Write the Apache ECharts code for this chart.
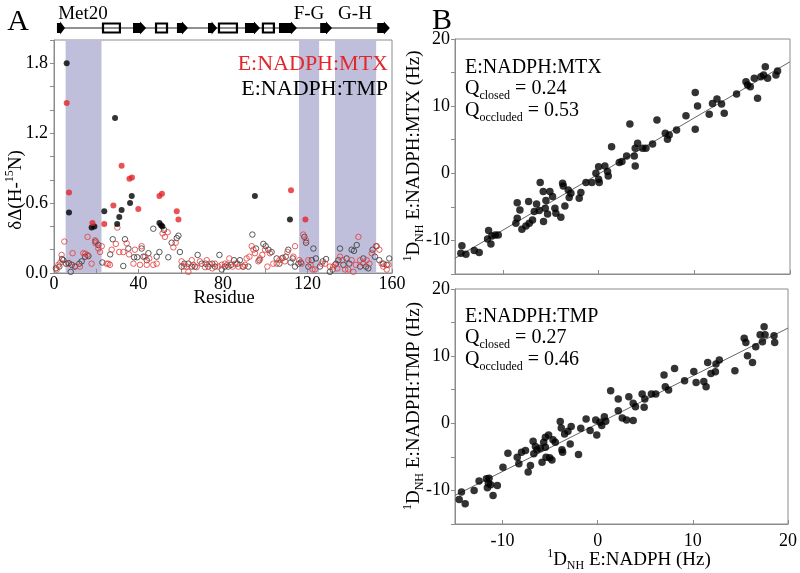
<!DOCTYPE html>
<html><head><meta charset="utf-8">
<script src="https://cdn.jsdelivr.net/npm/echarts@6/dist/echarts.min.js"></script>
<style>html,body{margin:0;padding:0;background:#fff}#c{width:800px;height:573px}</style>
</head><body><div id="c"></div>
<script>
// ---------- Panel A data (residue, δΔ) ----------
const mtxFilled = [[6,1.46],[7.1,0.69],[18.2,0.43],[23.8,0.42],[28.1,0.58],[32,0.92],[35.7,0.81],[36.9,0.82],[39.9,0.55],[49.9,0.66],[51.1,0.68],[58.1,0.53],[58.9,0.46],[112.2,0.71],[119,0.46]];
const tmpFilled = [[6,1.80],[7.1,0.52],[17.8,0.39],[19.1,0.40],[23.8,0.53],[28.9,1.33],[29.9,0.42],[30.9,0.48],[32,0.54],[36,0.60],[36.8,0.66],[49.9,0.43],[50.7,0.41],[51.3,0.40],[95.1,0.66],[111.7,0.46]];
const mtxOpen = [[1.3,0.03],[2.1,0.07],[3.0,0.09],[3.6,0.155],[4.9,0.27],[6.8,0.08],[8.8,0.17],[10.1,0.06],[12.3,0.055],[13.9,0.17],[14.8,0.165],[15.8,0.155],[15.9,0.31],[17.8,0.08],[19.4,0.28],[19.6,0.255],[21,0.21],[21.8,0.18],[22.6,0.23],[24.9,0.08],[25.7,0.08],[26.5,0.07],[27.3,0.2],[29.3,0.25],[30,0.39],[30.9,0.18],[32.8,0.18],[34.4,0.255],[35.5,0.16],[37.6,0.08],[38.3,0.2],[40.7,0.07],[41.5,0.23],[43.1,0.14],[43.9,0.07],[45.1,0.125],[47,0.07],[48.6,0.08],[51.4,0.34],[52.5,0.31],[53.8,0.35],[56.5,0.22],[57.6,0.26],[60.4,0.10],[61.5,0.055],[62.8,0.055],[63.6,0.01],[65.2,0.11],[66,0.07],[67.5,0.05],[69.1,0.10],[71.5,0.05],[72.3,0.11],[73.5,0.08],[74.9,0.04],[76.2,0.08],[77.8,0.055],[79.4,0.07],[80.9,0.08],[82,0.07],[83,0.125],[84.6,0.055],[85.8,0.08],[87.3,0.055],[89.3,0.055],[90.4,0.07],[91.2,0.125],[92.5,0.14],[93.6,0.23],[94.4,0.2],[95.1,0.17],[96.7,0.1],[97.5,0.125],[98.6,0.155],[99.9,0.2],[101,0.055],[102.2,0.17],[103.8,0.08],[105.4,0.08],[106.7,0.11],[107.9,0.125],[109.3,0.10],[110.5,0.18],[113.3,0.14],[114.1,0.23],[116.1,0.11],[117.2,0.08],[118,0.33],[119.3,0.28],[120.4,0.11],[121.5,0.07],[122.4,0.03],[123.5,0.03],[126.7,0.08],[128.3,0.08],[130.6,0.055],[132.2,0.055],[133,0.07],[134.1,0.04],[135.4,0.14],[136.6,0.11],[137.8,0.03],[139.3,0.03],[140.9,0.11],[141.7,0.01],[142.9,0.07],[144.1,0.31],[144.9,0.11],[146.4,0.08],[148,0.11],[149.3,0.08],[150.4,0.17],[152.4,0.23],[154,0.2],[155.1,0.08],[155.9,0.055],[157.5,0.03],[158.3,0.07]];
const tmpOpen = [[0.9,0.04],[2.5,0.055],[3.8,0.12],[4.4,0.11],[5.7,0.08],[7,0.085],[7.9,0.01],[8.4,0.07],[9.9,0.055],[12,0.08],[13.1,0.10],[14.7,0.14],[16.3,0.145],[19.7,0.27],[21,0.24],[22.9,0.09],[26.6,0.16],[27.8,0.29],[32.8,0.06],[33.6,0.29],[35.2,0.21],[37.9,0.135],[39.4,0.135],[41.5,0.21],[42.3,0.14],[43.9,0.11],[44.7,0.17],[47,0.38],[48.6,0.14],[49.9,0.18],[52.1,0.37],[54.1,0.135],[55.7,0.26],[58.1,0.30],[58.9,0.32],[59.6,0.18],[60.4,0.055],[61.7,0.08],[63.6,0.08],[65.2,0.055],[66.7,0.055],[68,0.155],[69.9,0.08],[71.8,0.08],[73.1,0.055],[74.9,0.08],[76.2,0.055],[78.3,0.155],[79.4,0.03],[80.9,0.055],[82.5,0.055],[83.8,0.07],[85.2,0.11],[86.8,0.08],[88,0.11],[89.6,0.055],[92,0.055],[93.9,0.33],[95.6,0.21],[97.2,0.11],[99.1,0.25],[100.2,0.23],[101.5,0.2],[103,0.18],[105.4,0.125],[106.7,0.08],[108.2,0.13],[109.7,0.14],[110.9,0.2],[112,0.09],[113,0.125],[114.1,0.055],[115.7,0.08],[116.8,0.09],[118.5,0.31],[119.3,0.26],[120.4,0.055],[122,0.11],[122.8,0.21],[124,0.125],[125.9,0.055],[127.2,0.10],[128.8,0.12],[130.6,0.01],[131.9,0.03],[133.5,0.08],[134.6,0.11],[135.4,0.21],[137,0.07],[138.5,0.125],[139.8,0.08],[140.9,0.2],[142,0.19],[143.3,0.24],[144.9,0.055],[146.4,0.125],[147.7,0.055],[148.8,0.04],[150.8,0.2],[151.9,0.14],[152.7,0.23],[154,0.11],[155.9,0.08],[157.5,0.07],[158.7,0.125]];

// shaded loop regions (residues)
const loopStart = [5.5, 116, 133];
const loopEnd   = [22.5, 125.5, 152.5];
// secondary structure (residues): type 'a' = strand arrow, 'h' = helix box
const ssStart = [1.4, 23.2, 37.4, 48.3, 58.2, 72.9, 78.1, 90.4, 98.9, 106.5, 126, 153];
const ssEnd   = [5.2, 31.2, 43.6, 53.5, 63.4, 77.2, 86.6, 97.5, 104.1, 115, 131.6, 159];
const ssType  = ['a','h','a','h','a','a','h','a','h','a','a','a'];
const backbone = [1.4, 158];

// ---------- Panel B data (1D_NH E:NADPH, 1D_NH complex) ----------
const mtxRdc = [[-14.39,-11.9],[-14.28,-10.81],[-13.86,-12.05],[-12.99,-11.5],[-12.47,-11.8],[-11.6,-9.77],[-11.49,-8.53],[-11.25,-10.52],[-11.15,-9.33],[-10.8,-9.18],[-10.48,-9.18],[-8.64,-7.44],[-8.5,-6.7],[-8.5,-4.37],[-8.22,-5.46],[-8.01,-8.33],[-7.59,-7.84],[-7.31,-4.22],[-7.24,-7.44],[-6.9,-6.94],[-6.72,-5.7],[-6.48,-4.56],[-6.2,-5.56],[-6.1,-1.39],[-5.78,-2.73],[-5.75,-7.19],[-5.57,-5.21],[-5.5,-4.07],[-5.33,-6.05],[-5.09,-2.73],[-4.81,-3.47],[-4.56,-5.21],[-4.46,-5.95],[-3.94,-6.55],[-3.76,-1.49],[-3.69,-1.88],[-3.52,-4.86],[-3.17,-2.48],[-3.07,-3.62],[-2.89,-2.98],[-2.02,-3.72],[-1.85,-2.88],[-1.32,-1.39],[-0.7,-1.39],[-0.28,0],[0,0.99],[0,-0.89],[0.07,-1.39],[0.66,1.09],[0.94,0.25],[1.01,-0.4],[1.36,3.97],[2.16,1.59],[2.44,1.74],[2.93,2.58],[3.27,7.34],[3.73,2.58],[3.83,3.72],[3.83,1.09],[4.08,4.46],[4.6,3.72],[4.95,3.72],[5.64,4.37],[6.1,7.94],[6.97,5.95],[7.2,5.06],[7.38,5.7],[8.15,6.45],[9.13,8.58],[10.1,12.05],[10.1,6.55],[10.34,10.02],[11.56,8.78],[11.9,10.4],[12.37,11.06],[12.85,10.32],[13.13,8.93],[14.42,11.8],[15.4,13.64],[15.57,13.14],[15.85,12.9],[16.27,14.14],[16.61,11.16],[16.96,14.38],[17.24,14.63],[17.42,15.87],[17.66,14.14],[18.53,14.63],[18.7,15.23]];
const tmpRdc = [[-14.56,-11.34],[-14.32,-10.25],[-13.93,-11.99],[-12.99,-10.0],[-12.47,-8.61],[-11.7,-8.27],[-11.6,-9.6],[-11.49,-8.92],[-11.42,-8.17],[-11.25,-9.17],[-11.0,-10.74],[-10.55,-9.26],[-9.96,-6.53],[-9.44,-4.45],[-8.46,-5.05],[-8.29,-6.04],[-8.01,-4.30],[-7.59,-4.06],[-7.31,-7.27],[-7.07,-6.28],[-6.79,-2.67],[-6.72,-4.55],[-6.55,-3.47],[-6.38,-3.96],[-6.03,-3.72],[-5.85,-5.79],[-5.68,-2.82],[-5.5,-2.08],[-5.5,-3.57],[-5.43,-5.05],[-5.16,-1.73],[-5.05,-5.15],[-4.81,-5.45],[-4.7,-2.47],[-4.46,-2.82],[-3.94,0.25],[-3.83,-0.69],[-3.76,-3.96],[-3.69,-4.31],[-3.48,-1.58],[-3.13,-1.18],[-2.89,-3.07],[-2.79,-0.49],[-2.02,-4.65],[-1.78,-0.74],[-1.22,0.65],[-0.8,-1.08],[-0.1,-1.73],[-0.21,0.5],[0.24,0.15],[0.42,-0.34],[0.7,0.99],[0.84,0.3],[1.36,4.85],[2.16,3.62],[2.16,1.88],[2.58,0.8],[3.03,0.5],[3.27,3.96],[3.73,2.97],[3.73,0.4],[3.97,2.48],[4.67,4.36],[4.88,2.38],[4.95,3.62],[5.64,4.36],[6.1,4.36],[6.97,7.18],[7.1,5.45],[7.45,4.95],[8.08,8.17],[9.13,6.34],[10.1,7.73],[10.34,6.09],[11.15,6.24],[11.39,5.45],[11.56,9.06],[11.9,7.43],[12.37,7.68],[12.43,8.82],[12.78,9.41],[14.42,7.83],[15.4,12.68],[15.57,12.04],[15.74,10.05],[16.27,9.06],[16.61,11.39],[17.07,13.17],[17.31,12.13],[17.49,14.36],[17.59,13.17],[18.53,13.03],[18.6,12.04]];
const mtxFit = {slope: 0.836, intercept: -0.11};
const tmpFit = {slope: 0.712, intercept: -0.06};
const rdcRange = [-15, 20];
const rdcLabels = [-10, 0, 10, 20];
const qMtx = ['0.24', '0.53'];
const qTmp = ['0.27', '0.46'];

// ---------- chart ----------
const F = 'Liberation Serif';
const RED = '#e3262b';
const AX = '#8c8c8c';
const chart = echarts.init(document.getElementById('c'));

function fitLine(f){ return rdcRange.map(x => [x, f.slope * x + f.intercept]); }
const lbl = {fontFamily: F, fontSize: 18, color: '#000'};
const rtxt = (sz) => ({
  n: {fontFamily: F, fontSize: sz, fill: '#000', lineHeight: sz + 5, verticalAlign: 'middle'},
  sup: {fontFamily: F, fontSize: Math.round(sz*0.62), fill: '#000', lineHeight: 12, verticalAlign: 'top'},
  sub: {fontFamily: F, fontSize: Math.round(sz*0.62), fill: '#000', lineHeight: 12, verticalAlign: 'bottom'}
});

function rdcX(idx, showLabel){
  return {gridIndex: idx, type: 'value', min: rdcRange[0], max: rdcRange[1],
    axisLine: {show: true, onZero: false, lineStyle: {color: AX}},
    axisTick: {show: true, inside: true, length: 4, customValues: rdcLabels, lineStyle: {color: AX}},
    axisLabel: {show: showLabel, customValues: rdcLabels, margin: 8, ...lbl},
    splitLine: {show: false}};
}
function rdcY(idx){
  return {gridIndex: idx, type: 'value', min: rdcRange[0], max: rdcRange[1], interval: 5,
    axisLine: {show: true, onZero: false, lineStyle: {color: AX}},
    axisTick: {show: true, inside: false, length: 4, lineStyle: {color: AX}},
    axisLabel: {formatter: v => (v % 10 === 0 ? String(v) : ''), margin: 5, ...lbl},
    splitLine: {show: false}};
}

const option = {
  animation: false,
  backgroundColor: '#fff',
  grid: [
    {left: 54, top: 40, width: 338, height: 233, show: true, borderColor: AX, borderWidth: 1},
    {left: 455, top: 39, width: 335, height: 235, show: true, borderColor: AX, borderWidth: 1},
    {left: 455, top: 289, width: 335, height: 235, show: true, borderColor: AX, borderWidth: 1},
    {left: 54, top: 16, width: 338, height: 24, show: false}
  ],
  xAxis: [
    {gridIndex: 0, type: 'value', min: 0, max: 160, interval: 20,
     axisLine: {show: true, onZero: false, lineStyle: {color: AX}},
     axisTick: {show: true, inside: true, length: 4, lineStyle: {color: AX}},
     axisLabel: {formatter: v => (v % 40 === 0 ? String(v) : ''), margin: 2, ...lbl},
     splitLine: {show: false}},
    rdcX(1, false),
    rdcX(2, true),
    {gridIndex: 3, type: 'value', min: 0, max: 160, show: false}
  ],
  yAxis: [
    {gridIndex: 0, type: 'value', min: 0, max: 2, interval: 0.2,
     axisLine: {show: true, onZero: false, lineStyle: {color: AX}},
     axisTick: {show: true, inside: false, length: 4, lineStyle: {color: AX}},
     axisLabel: {formatter: v => (Math.round(v*10) % 6 === 0 ? v.toFixed(1) : ''), margin: 6, ...lbl},
     splitLine: {show: false}},
    rdcY(1),
    rdcY(2),
    {gridIndex: 3, type: 'value', min: 0, max: 1, show: false}
  ],
  series: [
    { // shaded loops
      type: 'custom', xAxisIndex: 0, yAxisIndex: 0, z: 0, silent: true,
      data: loopStart.map((s, i) => [s, loopEnd[i]]),
      renderItem: (params, api) => {
        const p0 = api.coord([api.value(0), 2]);
        const p1 = api.coord([api.value(1), 0]);
        return {type: 'rect', shape: {x: p0[0], y: p0[1], width: p1[0]-p0[0], height: p1[1]-p0[1]},
                style: {fill: '#bfbfdc'}};
      }
    },
    { // backbone line
      type: 'line', xAxisIndex: 3, yAxisIndex: 3, symbol: 'none', silent: true,
      data: backbone.map(x => [x, 0.5]), lineStyle: {color: '#222', width: 1}, z: 1
    },
    { // secondary structure
      type: 'custom', xAxisIndex: 3, yAxisIndex: 3, z: 2, silent: true, clip: false,
      data: ssStart.map((s, i) => [s, ssEnd[i], ssType[i] === 'a' ? 1 : 0]),
      renderItem: (params, api) => {
        const a = api.coord([api.value(0), 0.5]);
        const b = api.coord([api.value(1), 0.5]);
        const x0 = a[0], x1 = b[0], yc = a[1];
        if (api.value(2) === 1) {
          const w = x1 - x0, hl = Math.min(6, w * 0.6), h1 = 5, h2 = 6.5;
          return {type: 'polygon', shape: {points: [[x0, yc-h1],[x1-hl, yc-h1],[x1-hl, yc-h2],[x1, yc],[x1-hl, yc+h2],[x1-hl, yc+h1],[x0, yc+h1]]},
                  style: {fill: '#000'}};
        }
        return {type: 'rect', shape: {x: x0, y: yc-4.5, width: x1-x0, height: 9},
                style: {fill: 'none', stroke: '#000', lineWidth: 2.2}};
      }
    },
    {type: 'scatter', xAxisIndex: 0, yAxisIndex: 0, data: tmpOpen, symbolSize: 5.5, z: 3,
     itemStyle: {color: 'rgba(0,0,0,0)', borderColor: '#333', borderWidth: 1}},
    {type: 'scatter', xAxisIndex: 0, yAxisIndex: 0, data: mtxOpen, symbolSize: 5.5, z: 3,
     itemStyle: {color: 'rgba(0,0,0,0)', borderColor: '#e53a3a', borderWidth: 1}},
    {type: 'scatter', xAxisIndex: 0, yAxisIndex: 0, data: tmpFilled, symbolSize: 6, z: 4,
     itemStyle: {color: '#000'}},
    {type: 'scatter', xAxisIndex: 0, yAxisIndex: 0, data: mtxFilled, symbolSize: 6, z: 4,
     itemStyle: {color: RED}},
    {type: 'line', xAxisIndex: 1, yAxisIndex: 1, data: fitLine(mtxFit), symbol: 'none',
     lineStyle: {color: '#666', width: 1}, z: 2},
    {type: 'scatter', xAxisIndex: 1, yAxisIndex: 1, data: mtxRdc, symbolSize: 7.5, z: 3,
     itemStyle: {color: '#000'}},
    {type: 'line', xAxisIndex: 2, yAxisIndex: 2, data: fitLine(tmpFit), symbol: 'none',
     lineStyle: {color: '#666', width: 1}, z: 2},
    {type: 'scatter', xAxisIndex: 2, yAxisIndex: 2, data: tmpRdc, symbolSize: 7.5, z: 3,
     itemStyle: {color: '#000'}}
  ],
  graphic: [
    {type: 'text', x: 18, y: 22, style: {text: 'A', fontFamily: F, fontSize: 30, fill: '#000', align: 'center', verticalAlign: 'middle'}},
    {type: 'text', x: 442, y: 21, style: {text: 'B', fontFamily: F, fontSize: 30, fill: '#000', align: 'center', verticalAlign: 'middle'}},
    {type: 'text', x: 83, y: 14, style: {text: 'Met20', fontFamily: F, fontSize: 19, fill: '#000', align: 'center', verticalAlign: 'middle'}},
    {type: 'text', x: 309, y: 14, style: {text: 'F-G', fontFamily: F, fontSize: 19, fill: '#000', align: 'center', verticalAlign: 'middle'}},
    {type: 'text', x: 355, y: 14, style: {text: 'G-H', fontFamily: F, fontSize: 19, fill: '#000', align: 'center', verticalAlign: 'middle'}},
    {type: 'text', x: 388, y: 64, z: 10, style: {text: 'E:NADPH:MTX', fontFamily: F, fontSize: 22, fill: RED, align: 'right', verticalAlign: 'middle'}},
    {type: 'text', x: 388, y: 89, z: 10, style: {text: 'E:NADPH:TMP', fontFamily: F, fontSize: 22, fill: '#000', align: 'right', verticalAlign: 'middle'}},
    {type: 'text', x: 16, y: 190, rotation: Math.PI/2, style: {text: '{n|δΔ(H-}{sup|15}{n|N)}', rich: rtxt(19), align: 'center', verticalAlign: 'middle'}},
    {type: 'text', x: 224, y: 298, style: {text: 'Residue', fontFamily: F, fontSize: 19, fill: '#000', align: 'center', verticalAlign: 'middle'}},
    // panel B annotations
    {type: 'text', x: 465, y: 68, z: 10, style: {text: 'E:NADPH:MTX', fontFamily: F, fontSize: 20, fill: '#000', align: 'left', verticalAlign: 'middle'}},
    {type: 'text', x: 465, y: 89, z: 10, style: {text: '{n|Q}{sub|closed}{n| = ' + qMtx[0] + '}', rich: rtxt(20), align: 'left', verticalAlign: 'middle'}},
    {type: 'text', x: 465, y: 111, z: 10, style: {text: '{n|Q}{sub|occluded}{n| = ' + qMtx[1] + '}', rich: rtxt(20), align: 'left', verticalAlign: 'middle'}},
    {type: 'text', x: 465, y: 317, z: 10, style: {text: 'E:NADPH:TMP', fontFamily: F, fontSize: 20, fill: '#000', align: 'left', verticalAlign: 'middle'}},
    {type: 'text', x: 465, y: 338, z: 10, style: {text: '{n|Q}{sub|closed}{n| = ' + qTmp[0] + '}', rich: rtxt(20), align: 'left', verticalAlign: 'middle'}},
    {type: 'text', x: 465, y: 360, z: 10, style: {text: '{n|Q}{sub|occluded}{n| = ' + qTmp[1] + '}', rich: rtxt(20), align: 'left', verticalAlign: 'middle'}},
    {type: 'text', x: 414, y: 156, rotation: Math.PI/2, style: {text: '{sup|1}{n|D}{sub|NH}{n| E:NADPH:MTX (Hz)}', rich: rtxt(19), align: 'center', verticalAlign: 'middle'}},
    {type: 'text', x: 414, y: 406, rotation: Math.PI/2, style: {text: '{sup|1}{n|D}{sub|NH}{n| E:NADPH:TMP (Hz)}', rich: rtxt(19), align: 'center', verticalAlign: 'middle'}},
    {type: 'text', x: 629, y: 560, style: {text: '{sup|1}{n|D}{sub|NH}{n| E:NADPH (Hz)}', rich: rtxt(19), align: 'center', verticalAlign: 'middle'}}
  ]
};
chart.setOption(option);
</script></body></html>
